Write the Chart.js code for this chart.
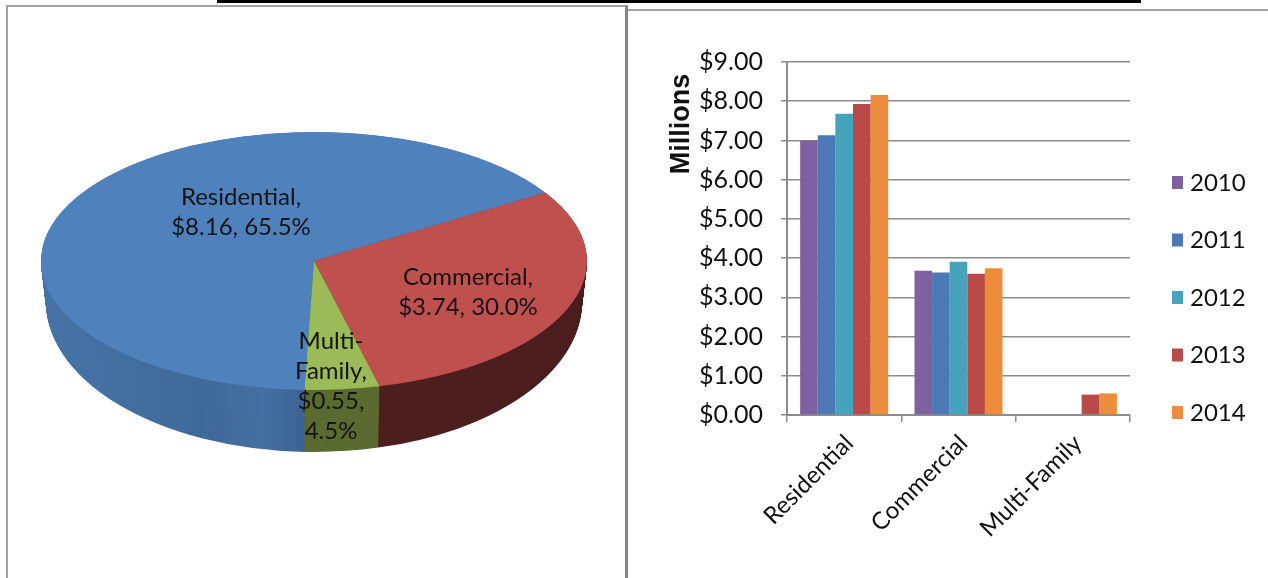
<!DOCTYPE html>
<html>
<head>
<meta charset="utf-8">
<script src="https://cdn.jsdelivr.net/npm/chart.js@4.4.1/dist/chart.umd.min.js"></script>
<style>
  html, body { margin: 0; padding: 0; background: #fff; }
  #page { position: relative; width: 1268px; height: 578px; overflow: hidden; background: #fff; }
  .rule { position: absolute; left: 217px; top: 0; width: 924px; height: 3px; background: #000; }
  .frame { position: absolute; box-sizing: border-box; }
  #pieFrame { left: 6px; top: 5px; width: 622px; height: 620px; border-left: 2px solid #a3a3a3; border-top: 2px solid #a3a3a3; border-right: 3px solid #858585; }
  #barFrame { left: 628px; top: 9px; width: 660px; height: 620px; border-top: 2px solid #a3a3a3; }
  canvas { position: absolute; }
  #pieChart { left: 0; top: 0; }
  #barChart { left: 628px; top: 12px; }
</style>
</head>
<body>
<div id="page">
  <div class="rule"></div>
  <div class="frame" id="pieFrame"></div>
  <div class="frame" id="barFrame"></div>
  <canvas id="pieChart" width="626" height="578"></canvas>
  <canvas id="barChart" width="640" height="566"></canvas>
</div>
<script>
// pie: 2014 split by customer type ($ millions)
const pieLabels = ["Residential", "Commercial", "Multi-Family"];
const pieValues = [8.16, 3.74, 0.55];
const piePercents = ["65.5%", "30.0%", "4.5%"];

// bars: revenue by year ($ millions)
const barCategories = ["Residential", "Commercial", "Multi-Family"];
const barYears = ["2010", "2011", "2012", "2013", "2014"];
const values2010 = [7.00, 3.68, 0];
const values2011 = [7.13, 3.63, 0];
const values2012 = [7.68, 3.91, 0];
const values2013 = [7.93, 3.60, 0.52];
const values2014 = [8.16, 3.74, 0.55];
const yTickLabels = ["$0.00", "$1.00", "$2.00", "$3.00", "$4.00", "$5.00", "$6.00", "$7.00", "$8.00", "$9.00"];

const pieTopColors = ["#4F81BD", "#C0504D", "#9BBB59"];
const pieSideColors = ["#3E6696", "#4E1F1F", "#5B6B30"];
const barColors = ["#7F60A1", "#4A79B6", "#46A3BC", "#BA4A47", "#EC8C3D"];
const GRID = "#8c8c8c";
const FONT = "Lato, 'Open Sans', sans-serif";

// top face and base of the 3d pie, page pixels
const PIE_TOP = { cx: 314, cy: 261, rx: 273, ry: 129 };
const PIE_BASE = { cx: 314, cy: 302, rx: 268, ry: 150 };
const PIE_LAYERS = 64;

function ellipseAt(t) {
  return {
    cx: PIE_TOP.cx + (PIE_BASE.cx - PIE_TOP.cx) * t,
    cy: PIE_TOP.cy + (PIE_BASE.cy - PIE_TOP.cy) * t,
    rx: PIE_TOP.rx + (PIE_BASE.rx - PIE_TOP.rx) * t,
    ry: PIE_TOP.ry + (PIE_BASE.ry - PIE_TOP.ry) * t
  };
}

function toEllipse(ctx, arc, e) {
  const r = arc.outerRadius;
  ctx.translate(e.cx, e.cy);
  ctx.scale(e.rx / r, e.ry / r);
  ctx.translate(-arc.x, -arc.y);
}

function fillArc(ctx, arc) {
  ctx.beginPath();
  ctx.moveTo(arc.x, arc.y);
  ctx.arc(arc.x, arc.y, arc.outerRadius, arc.startAngle, arc.endAngle);
  ctx.closePath();
  ctx.fill();
}

function sideFill(ctx, k) {
  if (k !== 0) return pieSideColors[k];
  // residential wall is a bit lighter on the left
  const g = ctx.createLinearGradient(PIE_TOP.cx - PIE_TOP.rx, 0, PIE_TOP.cx, 0);
  g.addColorStop(0, "#4672A6");
  g.addColorStop(0.55, "#3F6999");
  g.addColorStop(0.8, "#436FA2");
  g.addColorStop(1, "#3A5F8E");
  return g;
}

function pieLabelLines(i) {
  const money = "$" + pieValues[i].toFixed(2);
  if (i === 2) {
    const parts = pieLabels[i].split("-");
    return [parts[0] + "-", parts[1] + ",", money + ",", piePercents[i]];
  }
  return [pieLabels[i] + ",", money + ", " + piePercents[i]];
}

const pieLabelOffsets = [[-73, -49], [154, 31], [17, 125]];

const pie3d = {
  id: "pie3d",
  beforeDatasetsDraw(chart) {
    const ctx = chart.ctx;
    const arcs = chart.getDatasetMeta(0).data;
    for (let i = PIE_LAYERS; i > 0; i--) {
      const e = ellipseAt(i / PIE_LAYERS);
      arcs.forEach((arc, k) => {
        ctx.save();
        ctx.fillStyle = sideFill(ctx, k);
        toEllipse(ctx, arc, e);
        fillArc(ctx, arc);
        ctx.restore();
      });
    }
    ctx.save();
    toEllipse(ctx, arcs[0], PIE_TOP);
  },
  afterDatasetsDraw(chart) {
    const ctx = chart.ctx;
    ctx.restore();
    ctx.save();
    ctx.font = "24px " + FONT;
    ctx.fillStyle = "#141414";
    ctx.textAlign = "center";
    ctx.textBaseline = "middle";
    const lh = 30;
    pieLabels.forEach((_, i) => {
      const lines = pieLabelLines(i);
      const x = PIE_TOP.cx + pieLabelOffsets[i][0];
      const y0 = PIE_TOP.cy + pieLabelOffsets[i][1] - (lines.length - 1) * lh / 2;
      lines.forEach((line, j) => ctx.fillText(line, x, y0 + j * lh));
    });
    ctx.restore();
  }
};

new Chart(document.getElementById("pieChart"), {
  type: "pie",
  data: {
    labels: pieLabels,
    datasets: [{
      data: pieValues,
      backgroundColor: pieTopColors,
      borderWidth: 0,
      clip: false
    }]
  },
  options: {
    responsive: false,
    animation: false,
    rotation: 182,
    layout: { padding: 0 },
    plugins: { legend: { display: false }, tooltip: { enabled: false } }
  },
  plugins: [pie3d]
});

const barDecor = {
  id: "barDecor",
  afterDraw(chart) {
    const ctx = chart.ctx;
    const area = chart.chartArea;
    ctx.save();
    // axis title
    ctx.translate(54, 112);
    ctx.rotate(-Math.PI / 2);
    ctx.font = "bold 27px 'Liberation Sans', Arial, sans-serif";
    ctx.fillStyle = "#111";
    ctx.textAlign = "center";
    ctx.textBaseline = "middle";
    ctx.fillText("Millions", 0, 0);
    ctx.restore();
    // legend
    ctx.save();
    ctx.font = "24px " + FONT;
    ctx.textBaseline = "middle";
    ctx.textAlign = "left";
    chart.data.datasets.forEach((ds, i) => {
      const y = area.top + 120 + i * 57.5;
      const x = area.right + 42;
      ctx.fillStyle = ds.backgroundColor;
      ctx.fillRect(x, y - 6, 11, 13);
      ctx.fillStyle = "#111";
      ctx.fillText(ds.label, x + 18, y + 1);
    });
    ctx.restore();
  }
};

const barSeries = [values2010, values2011, values2012, values2013, values2014];

new Chart(document.getElementById("barChart"), {
  type: "bar",
  data: {
    labels: barCategories,
    datasets: barYears.map((year, i) => ({
      label: year,
      data: barSeries[i],
      backgroundColor: barColors[i],
      borderWidth: 0,
      categoryPercentage: 0.77,
      barPercentage: 1.0
    }))
  },
  options: {
    responsive: false,
    animation: false,
    layout: { padding: { top: 50, right: 138, left: 0, bottom: 0 } },
    plugins: { legend: { display: false }, tooltip: { enabled: false } },
    scales: {
      x: {
        offset: true,
        grid: { offset: true, drawOnChartArea: false, drawTicks: true, tickLength: 7, color: GRID, lineWidth: 1.5 },
        border: { color: GRID, width: 2 },
        ticks: {
          autoSkip: false,
          maxRotation: 45,
          minRotation: 45,
          padding: 7,
          labelOffset: 5,
          color: "#111",
          font: { family: FONT, size: 24 }
        },
        afterFit(scale) { scale.height = 163; }
      },
      y: {
        min: 0,
        max: 9,
        ticks: {
          stepSize: 1,
          padding: 18,
          color: "#111",
          font: { family: FONT, size: 25 },
          callback: (value, index) => yTickLabels[index]
        },
        grid: { color: GRID, lineWidth: 1.5, tickLength: 6 },
        border: { color: GRID, width: 2 },
        afterFit(scale) { scale.width = 159; }
      }
    }
  },
  plugins: [barDecor]
});
</script>
</body>
</html>
